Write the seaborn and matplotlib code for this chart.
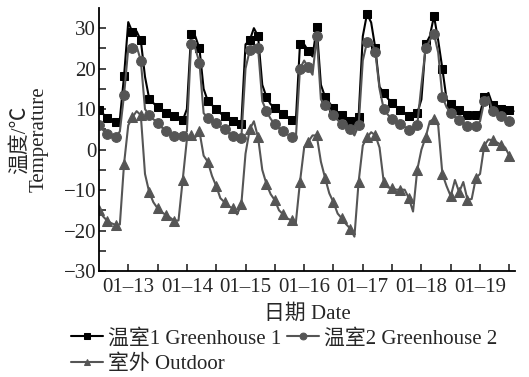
import numpy as np
import pandas as pd
import matplotlib
matplotlib.use('Agg')
import matplotlib.pyplot as plt
import seaborn as sns
from matplotlib.ticker import FixedLocator

# readings every 24/14 h starting 01-13 00:00
greenhouse1 = [9.7, 8.8, 7.9, 7.3, 6.9, 7.5, 18.2, 31.5, 29, 29.2,
               27, 18, 12.6, 11.5, 10.5, 9.8, 9.1, 8.6, 8.2, 7.7,
               7.2, 10, 28.5, 28, 25, 15, 12, 11, 10, 9,
               8.2, 7.6, 7, 6.7, 6.4, 26, 27, 30, 28, 16,
               13, 11.2, 10.3, 9.5, 8.7, 7.9, 7.4, 6.9, 26, 26,
               24.4, 23, 30.2, 16, 13, 11.6, 10.2, 9.2, 8.5, 7.9,
               7, 6.2, 8, 28, 33.5, 31.4, 25, 15.5, 14, 12.6,
               11.5, 10.6, 9.8, 9, 8.4, 7.9, 9, 12.4, 26, 28,
               33, 27, 20, 12.4, 11.2, 10.5, 9.8, 9.3, 8.5, 8.3,
               8.5, 9, 13, 14, 11, 10.5, 10, 9.9, 9.7, 9.5]
greenhouse2 = [6.0, 4.8, 3.8, 3.2, 3.0, 4.5, 13.5, 25, 25, 25.5,
               22, 10, 8.5, 7.5, 6.6, 5.5, 4.6, 4.0, 3.4, 3.2,
               3.4, 4.5, 26, 25, 21.5, 9, 7.8, 7, 6.5, 5.7,
               5, 4, 3.3, 3, 2.9, 20, 24.5, 25.6, 25, 12,
               9.5, 7.6, 6.3, 5.2, 4.5, 3.8, 3.0, 2.5, 20, 22,
               20.3, 18.5, 28, 12.4, 11, 9.9, 8.5, 7.3, 6.4, 5.8,
               5, 3.5, 6, 22, 26.5, 27, 24, 15, 10, 8.6,
               7.6, 7, 6.3, 5.6, 4.8, 4.1, 6, 16, 25, 27,
               28.5, 24, 13, 10.5, 9, 8, 7.2, 6.5, 5.9, 5.6,
               5.8, 7, 12, 13, 9.5, 8.7, 8.2, 7.7, 7.0, 6.6]
outdoor = [-15, -16.5, -17.6, -18.2, -18.6, -18.5, -3.5, 6, 8, 9.5,
           8.5, -6, -10.5, -13, -14.5, -15.5, -16.1, -16.8, -17.6, -17.5,
           -7.5, 2.5, 3.5, 3, 4.5, -1.5, -3, -6.5, -9, -12,
           -13, -14, -14.5, -16, -13.5, -1, 5, 7, 3, -5,
           -8.5, -11, -12.5, -15, -16, -17, -17.5, -18.2, -8, 0.5,
           2, 3.5, 3.5, -3, -7, -10.8, -13, -15.8, -17, -18.4,
           -19.5, -21.5, -8, 1, 3, 4.3, 3.5, 0.5, -8, -9.3,
           -9.6, -9.9, -9.9, -9.9, -12, -15.3, -5, 0, 3, 7,
           7.5, 6, -6, -9, -11.5, -7.5, -10.5, -8, -12.4, -12.2,
           -7, -6, 1, 2.5, 2.3, 1.8, 1.2, 0.5, -1.5, -2.8]
day_labels = ['01–13', '01–14', '01–15', '01–16', '01–17', '01–18', '01–19']

days = np.arange(len(greenhouse1)) / 14.0
df = pd.DataFrame({'day': days, 'gh1': greenhouse1, 'gh2': greenhouse2, 'out': outdoor})

sns.set_style('ticks')
plt.rcParams['font.family'] = ['Liberation Serif', 'Noto Sans CJK SC']
plt.rcParams['axes.unicode_minus'] = True

fig = plt.figure(figsize=(5.29, 3.77), dpi=100)
ax = fig.add_axes([0.187, 0.281, 0.787, 0.698])

gray = '#555555'
fs = 15
sns.lineplot(data=df, x='day', y='gh1', ax=ax, color='black', lw=1.5, marker='s', ms=6,
             markevery=2, mec='black', label='温室1 Greenhouse 1')
sns.lineplot(data=df, x='day', y='gh2', ax=ax, color=gray, lw=1.5, marker='o', ms=7,
             markevery=2, mec=gray, label='温室2 Greenhouse 2')
sns.lineplot(data=df, x='day', y='out', ax=ax, color=gray, lw=1.5, marker='^', ms=7,
             markevery=2, mec=gray, label='室外 Outdoor')

ax.set_xlim(0, 7.1)
ax.set_ylim(-30, 35)
ax.set_yticks([-30, -20, -10, 0, 10, 20, 30])
ax.yaxis.set_minor_locator(FixedLocator([-25, -15, -5, 5, 15, 25]))
ax.set_xticks(np.arange(7) + 0.5)
ax.set_xticklabels(day_labels)
ax.xaxis.set_minor_locator(FixedLocator(np.arange(1, 8)))
ax.tick_params(axis='both', which='both', direction='in', labelsize=fs, width=1.2)
ax.tick_params(axis='both', which='major', length=5)
ax.tick_params(axis='y', which='major', pad=2)
ax.tick_params(axis='x', which='major', pad=5)
ax.tick_params(axis='both', which='minor', length=5)
for s in ['left', 'bottom']:
    ax.spines[s].set_linewidth(1.3)
    ax.spines[s].set_color('black')
sns.despine(ax=ax)

ax.set_xlabel('日期 Date', fontsize=fs, labelpad=5)
ax.set_ylabel('温度/℃\nTemperature', fontsize=fs, labelpad=11, linespacing=0.95)

handles, labels = ax.get_legend_handles_labels()
ax.get_legend().remove()
order = [0, 2, 1]
fig.legend([handles[i] for i in order], [labels[i] for i in order],
           loc='upper left', bbox_to_anchor=(0.135, 0.128), ncol=2,
           frameon=False, fontsize=fs, handlelength=1.5, handletextpad=0.25,
           columnspacing=0.3, borderaxespad=0, borderpad=0, labelspacing=0.3,
           markerscale=0.7)

fig.savefig('out.png', dpi=100)
